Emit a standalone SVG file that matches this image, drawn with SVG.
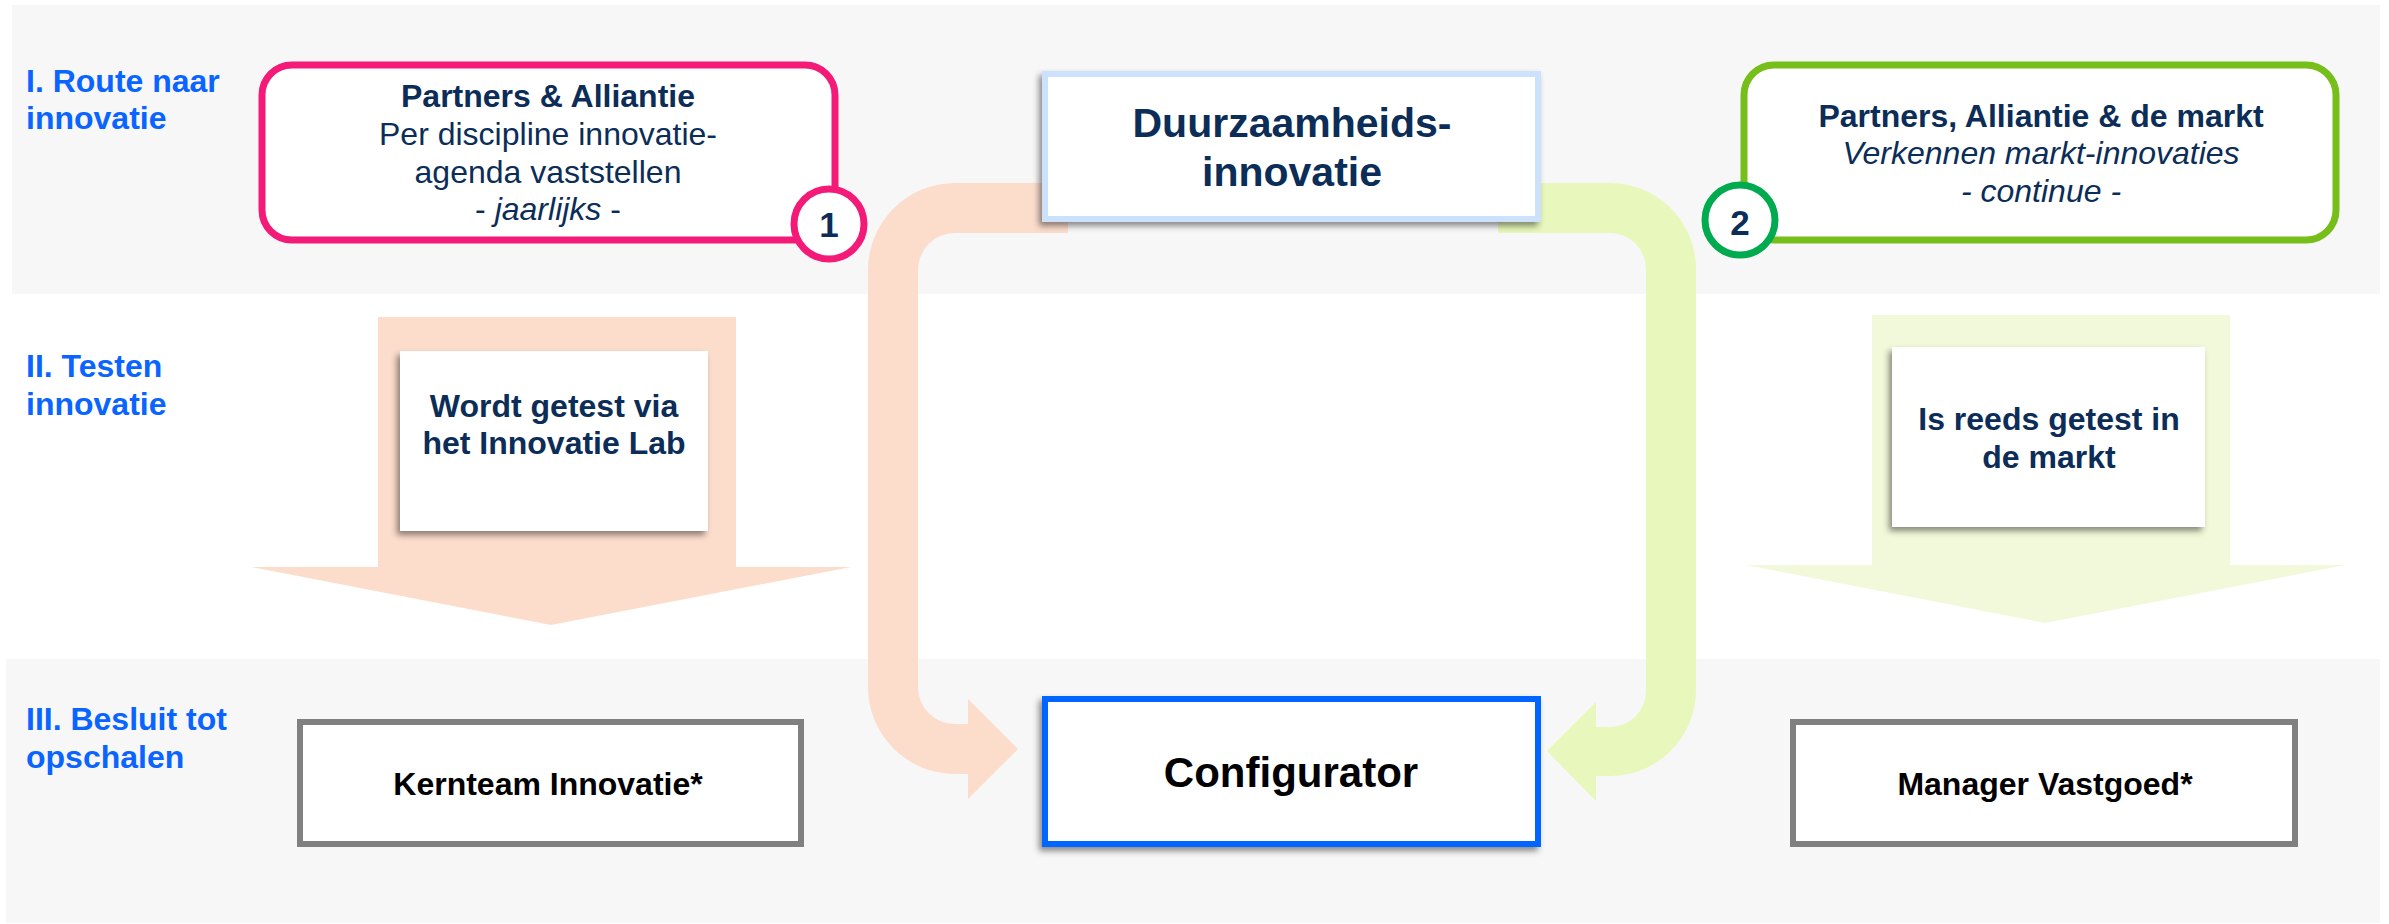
<svg xmlns="http://www.w3.org/2000/svg" width="2389" height="924" viewBox="0 0 2389 924">
<style>
.lbl{font-family:"Liberation Sans",Arial,sans-serif;font-weight:bold;font-size:32px;fill:#0A64FF}
.t{font-family:"Liberation Sans",Arial,sans-serif;font-size:32px;fill:#0B2D57;text-anchor:middle}
.b{font-weight:bold}
.i{font-style:italic}
.k{fill:#000}
.band{fill:#F7F7F7}
.peach{fill:#FCDDCC}
.lime{fill:#E8F7BB}
.lime2{fill:#F2F9DA}
.wbox{fill:#fff}
</style>
<defs>
<filter id="sh" x="-20%" y="-20%" width="140%" height="150%">
<feDropShadow dx="-3" dy="4" stdDeviation="3" flood-color="#000" flood-opacity="0.45"/>
</filter>
</defs>
<rect width="2389" height="924" fill="#fff"/>
<g id="bands">
<rect class="band" x="12" y="5" width="2368" height="289"/>
<rect class="band" x="6" y="659" width="2374" height="264"/>
</g>
<g id="row-labels">
<text class="lbl" x="26" y="92">I. Route naar</text>
<text class="lbl" x="26" y="129">innovatie</text>
<text class="lbl" x="26" y="377">II. Testen</text>
<text class="lbl" x="26" y="415">innovatie</text>
<text class="lbl" x="26" y="730">III. Besluit tot</text>
<text class="lbl" x="26" y="768">opschalen</text>
</g>
<g id="connectors">
<polygon class="peach" points="378,317 736,317 736,567 851,567 551,625 251,567 378,567"/>
<polygon class="lime2" points="1872,315 2230,315 2230,565 2346,565 2045,623 1746,565 1872,565"/>
<path class="peach" d="M1068,183 L955,183 A87,87 0 0 0 868,270 L868,687 A87,87 0 0 0 955,774 L968,774 L968,799 L1018,749 L968,699 L968,724 L955,724 A37,37 0 0 1 918,687 L918,270 A37,37 0 0 1 955,233 L1068,233 Z"/>
<path class="lime" d="M1498,183 L1610,183 A86,86 0 0 1 1696,269 L1696,690 A86,86 0 0 1 1610,776 L1596,776 L1596,801 L1547,751 L1596,702 L1596,727 L1610,727 A36,36 0 0 0 1646,691 L1646,269 A36,36 0 0 0 1610,233 L1498,233 Z"/>
</g>
<g id="node-partners-1">
<rect x="262" y="65" width="573" height="175" rx="30" fill="#fff" stroke="#F41B78" stroke-width="7"/>
<text class="t b" x="548" y="107">Partners &amp; Alliantie</text>
<text class="t" x="548" y="145">Per discipline innovatie-</text>
<text class="t" x="548" y="183">agenda vaststellen</text>
<text class="t" x="548" y="220"><tspan>- </tspan><tspan class="i">jaarlijks</tspan><tspan> -</tspan></text>
<circle cx="829" cy="224" r="35" fill="#fff" stroke="#F41B78" stroke-width="7"/>
<text class="t b" x="829" y="237" style="font-size:35px">1</text>
</g>
<g id="node-duurzaamheid">
<rect x="1045" y="74" width="493" height="145" fill="#fff" stroke="#CCE1FC" stroke-width="6" filter="url(#sh)"/>
<text class="t b" x="1292" y="137" style="font-size:41px">Duurzaamheids-</text>
<text class="t b" x="1292" y="186" style="font-size:41px">innovatie</text>
</g>
<g id="node-partners-2">
<rect x="1744" y="65" width="592" height="175" rx="30" fill="#fff" stroke="#76BE1A" stroke-width="7"/>
<text class="t b" x="2041" y="127">Partners, Alliantie &amp; de markt</text>
<text class="t i" x="2041" y="164">Verkennen markt-innovaties</text>
<text class="t i" x="2041" y="202">- continue -</text>
<circle cx="1740" cy="220" r="35" fill="#fff" stroke="#00AA4F" stroke-width="7"/>
<text class="t b" x="1740" y="235" style="font-size:35px">2</text>
</g>
<g id="node-innovatielab">
<rect class="wbox" x="400" y="351" width="308" height="180" filter="url(#sh)"/>
<text class="t b" x="554" y="417">Wordt getest via</text>
<text class="t b" x="554" y="454">het Innovatie Lab</text>
</g>
<g id="node-markt">
<rect class="wbox" x="1892" y="347" width="313" height="180" filter="url(#sh)"/>
<text class="t b" x="2049" y="430">Is reeds getest in</text>
<text class="t b" x="2049" y="468">de markt</text>
</g>
<g id="node-kernteam">
<rect x="300" y="722" width="501" height="122" fill="#fff" stroke="#808080" stroke-width="6"/>
<text class="t b k" x="548" y="795">Kernteam Innovatie*</text>
</g>
<g id="node-configurator">
<rect x="1045" y="699" width="493" height="145" fill="#fff" stroke="#0066FF" stroke-width="6" filter="url(#sh)"/>
<text class="t b k" x="1291" y="787" style="font-size:42px">Configurator</text>
</g>
<g id="node-manager">
<rect x="1793" y="722" width="502" height="122" fill="#fff" stroke="#808080" stroke-width="6"/>
<text class="t b k" x="2045" y="795">Manager Vastgoed*</text>
</g>
</svg>
